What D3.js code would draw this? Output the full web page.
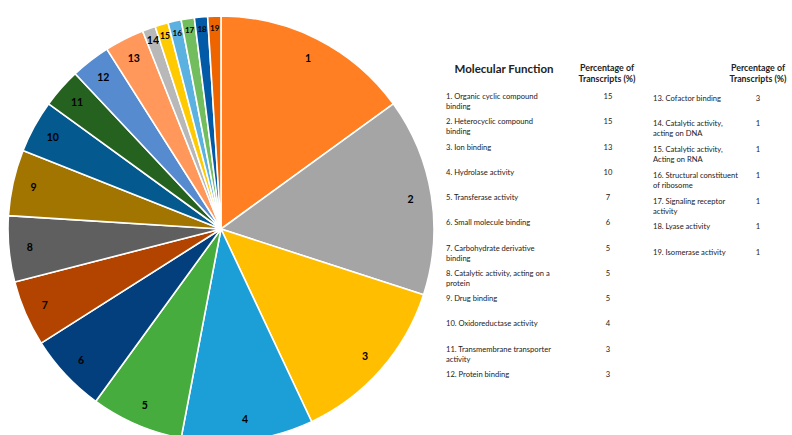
<!DOCTYPE html>
<html>
<head>
<meta charset="utf-8">
<script src="https://cdn.jsdelivr.net/npm/d3@7"></script>
<style>
  html, body { margin: 0; padding: 0; background: #fff; }
  svg { display: block; }
</style>
</head>
<body>
<svg id="chart" width="792" height="435"></svg>
<script>
// Molecular function categories and their share of transcripts (%)
const categories = [
  "Organic cyclic compound binding",
  "Heterocyclic compound binding",
  "Ion binding",
  "Hydrolase activity",
  "Transferase activity",
  "Small molecule binding",
  "Carbohydrate derivative binding",
  "Catalytic activity, acting on a protein",
  "Drug binding",
  "Oxidoreductase activity",
  "Transmembrane transporter activity",
  "Protein binding",
  "Cofactor binding",
  "Catalytic activity, acting on DNA",
  "Catalytic activity, Acting on RNA",
  "Structural constituent of ribosome",
  "Signaling receptor activity",
  "Lyase activity",
  "Isomerase activity"
];
const percentages = [15, 15, 13, 10, 7, 6, 5, 5, 5, 4, 3, 3, 3, 1, 1, 1, 1, 1, 1];

// Table rows, already wrapped the way they are printed
const tableLines = [
  ["1. Organic cyclic compound", "binding"],
  ["2. Heterocyclic compound", "binding"],
  ["3. Ion binding"],
  ["4. Hydrolase activity"],
  ["5. Transferase activity"],
  ["6. Small molecule binding"],
  ["7. Carbohydrate derivative", "binding"],
  ["8. Catalytic activity, acting on a", "protein"],
  ["9. Drug binding"],
  ["10. Oxidoreductase activity"],
  ["11. Transmembrane transporter", "activity"],
  ["12. Protein binding"],
  ["13. Cofactor binding"],
  ["14. Catalytic activity,", "acting on DNA"],
  ["15. Catalytic activity,", "Acting on RNA"],
  ["16. Structural constituent", "of ribosome"],
  ["17. Signaling receptor", "activity"],
  ["18. Lyase activity"],
  ["19. Isomerase activity"]
];

const colors = [
  "#FF7F22", "#A5A5A5", "#FFBE00", "#1C9ED6", "#45AC3D",
  "#023F7C", "#B34400", "#5F5F5F", "#A27500", "#04598F",
  "#25611F", "#578BCF", "#FF985A", "#B8B8B8", "#FFCB00",
  "#5BB2E0", "#72BD5E", "#035AA6", "#EE6500"
];

const svg = d3.select("#chart");
const font = "Lato, 'Open Sans', sans-serif";

// ---- Pie ----
const cx = 221, cy = 229, R = 213;
const g = svg.append("g").attr("transform", `translate(${cx},${cy})`);

const pie = d3.pie().sort(null).value(d => d);
const arcs = pie(percentages);
const arc = d3.arc().innerRadius(0).outerRadius(R);

g.selectAll("path.slice")
  .data(arcs)
  .join("path")
  .attr("class", "slice")
  .attr("d", arc)
  .attr("fill", (d, i) => colors[i])
  .attr("stroke", "#fff")
  .attr("stroke-width", 1.6)
  .attr("stroke-linejoin", "round");

// slice numbers near the rim
g.selectAll("text.num")
  .data(arcs)
  .join("text")
  .attr("class", "num")
  .each(function (d, i) {
    const small = d.data <= 1;
    const r = small ? 201 : 192;
    const a = (d.startAngle + d.endAngle) / 2;
    d3.select(this)
      .attr("x", r * Math.sin(a))
      .attr("y", -r * Math.cos(a))
      .attr("font-size", (small && i > 14) ? 8 : (i === 14 ? 8.5 : 10.5));
  })
  .attr("text-anchor", "middle")
  .attr("dominant-baseline", "central")
  .attr("font-family", font)
  .attr("font-weight", "bold")
  .attr("fill", "#000")
  .text((d, i) => i + 1);

// ---- Table ----
const table = svg.append("g").attr("font-family", font).attr("fill", "#222");

// headers
table.append("text")
  .attr("x", 504).attr("y", 68)
  .attr("text-anchor", "middle").attr("dominant-baseline", "central")
  .attr("font-size", 11.5).attr("font-weight", "bold")
  .text("Molecular Function");

function percentHeader(x) {
  table.append("text")
    .attr("x", x).attr("y", 67)
    .attr("text-anchor", "middle").attr("dominant-baseline", "central")
    .attr("font-size", 8.8).attr("font-weight", "bold")
    .text("Percentage of");
  table.append("text")
    .attr("x", x).attr("y", 78.5)
    .attr("text-anchor", "middle").attr("dominant-baseline", "central")
    .attr("font-size", 8.8).attr("font-weight", "bold")
    .text("Transcripts (%)");
}
percentHeader(607);
percentHeader(758);

const leftRows = d3.range(0, 12);
const rightRows = d3.range(12, 19);
const yLeft = d3.scaleLinear().domain([0, 11]).range([96, 374]);
const yRight = d3.scaleLinear().domain([12, 18]).range([97.5, 252]);

function drawRows(rows, yScale, xText, xVal) {
  const row = table.selectAll(null)
    .data(rows)
    .join("g")
    .attr("transform", i => `translate(0,${yScale(i)})`);
  row.each(function (i) {
    const sel = d3.select(this);
    tableLines[i].forEach((line, k) => {
      sel.append("text")
        .attr("x", xText).attr("y", k * 10)
        .attr("dominant-baseline", "central")
        .attr("font-size", 7.6)
        .text(line);
    });
    sel.append("text")
      .attr("x", xVal).attr("y", 0)
      .attr("text-anchor", "middle")
      .attr("dominant-baseline", "central")
      .attr("font-size", 7.6)
      .text(percentages[i]);
  });
}
drawRows(leftRows, yLeft, 446, 608);
drawRows(rightRows, yRight, 653, 758);
</script>
</body>
</html>
